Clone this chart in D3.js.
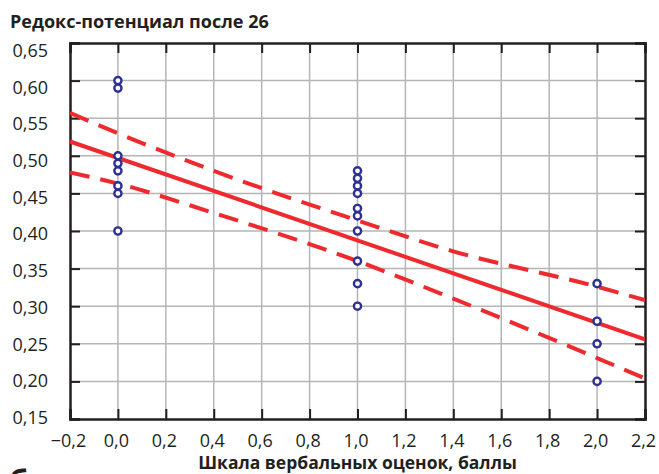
<!DOCTYPE html>
<html><head><meta charset="utf-8">
<script src="https://cdn.jsdelivr.net/npm/d3@7"></script>
<style>
html,body{margin:0;padding:0;background:#fff;}
svg{display:block;font-family:"Open Sans",sans-serif;}
</style></head>
<body>
<svg id="chart" width="659" height="474"></svg>
<script>
// ---- data ----
const xTicks = [-0.2,0,0.2,0.4,0.6,0.8,1.0,1.2,1.4,1.6,1.8,2.0,2.2];
const yTicks = [0.15,0.20,0.25,0.30,0.35,0.40,0.45,0.50,0.55,0.60,0.65];
const pointsX = [0,0,0,0,0,0,0,0, 1,1,1,1,1,1,1,1,1,1, 2,2,2,2];
const pointsY = [0.60,0.59,0.50,0.49,0.48,0.46,0.45,0.40,
                 0.48,0.47,0.46,0.45,0.43,0.42,0.40,0.36,0.33,0.30,
                 0.33,0.28,0.25,0.20];
const fitX = [-0.2, 2.2];
const fitY = [0.519, 0.256];
const bandX = [-0.2, 0, 0.4, 1.0, 1.4, 2.0, 2.2];
const upperY = [0.557, 0.530, 0.480, 0.414, 0.373, 0.326, 0.308];
const lowerY = [0.478, 0.463, 0.424, 0.360, 0.310, 0.231, 0.204];
const title = "Редокс-потенциал после 26";
const xTitle = "Шкала вербальных оценок, баллы";

// ---- layout ----
const L = 70, R = 645, T = 43, B = 419;
const svg = d3.select("#chart");
const x = d3.scaleLinear().domain([-0.2, 2.2]).range([L, R]);
const y = d3.scaleLinear().domain([0.15, 0.65]).range([B, T]);
// y tick labels are typeset on a slightly tighter pitch than the grid
const yLab = d3.scaleLinear().domain([0.15, 0.65]).range([417, 50]);
const fmtX = d => d3.format(".1f")(d).replace("-", "–").replace(".", ",");
const fmtY = d => d3.format(".2f")(d).replace(".", ",");

svg.append("defs").append("clipPath").attr("id","clip")
  .append("rect").attr("x",L).attr("y",T).attr("width",R-L).attr("height",B-T);

// grid
const grid = svg.append("g").attr("stroke","#b5b5b5").attr("stroke-width",1.5);
grid.selectAll(".gx").data(xTicks.slice(1,-1)).join("line")
  .attr("x1",d=>x(d)).attr("x2",d=>x(d)).attr("y1",T).attr("y2",B);
grid.selectAll(".gy").data(yTicks.slice(1,-1)).join("line")
  .attr("y1",d=>y(d)).attr("y2",d=>y(d)).attr("x1",L).attr("x2",R);

// axes with inward ticks
const axCol = "#231f20";
const tl = 10;
const gB = svg.append("g").attr("transform",`translate(0,${B})`)
  .call(d3.axisBottom(x).tickValues(xTicks).tickSize(-tl).tickFormat(fmtX).tickPadding(15));
const gT = svg.append("g").attr("transform",`translate(0,${T})`)
  .call(d3.axisTop(x).tickValues(xTicks).tickSize(-tl).tickFormat(""));
const gL = svg.append("g").attr("transform",`translate(${L},0)`)
  .call(d3.axisLeft(y).tickValues(yTicks).tickSize(-tl).tickFormat(fmtY).tickPadding(22));
const gR = svg.append("g").attr("transform",`translate(${R},0)`)
  .call(d3.axisRight(y).tickValues(yTicks).tickSize(-tl).tickFormat(""));
[gB,gT,gL,gR].forEach(g=>{
  g.select(".domain").attr("stroke",axCol).attr("stroke-width",2.5);
  g.selectAll(".tick line").attr("stroke",axCol).attr("stroke-width",2);
  g.selectAll("text").attr("fill","#231f20").style("font-family","'Open Sans',sans-serif").style("font-size","18px");
});
gB.selectAll(".tick text").attr("dx",-2);
gL.selectAll(".tick text").attr("y",d=>yLab(d)-y(d)).attr("dy","0.36em");

// lines
const line = d3.line().x(d=>x(d[0])).y(d=>y(d[1]));
const bandLine = d3.line().x(d=>x(d[0])).y(d=>y(d[1])).curve(d3.curveMonotoneX);
const lines = svg.append("g").attr("clip-path","url(#clip)").attr("fill","none").attr("stroke","#ee2a2e").attr("stroke-width",4);
lines.append("path").attr("d", line(fitX.map((v,i)=>[v,fitY[i]])));
lines.append("path").attr("stroke-dasharray","20,11").attr("d", bandLine(bandX.map((v,i)=>[v,upperY[i]])));
lines.append("path").attr("stroke-dasharray","20,11").attr("d", bandLine(bandX.map((v,i)=>[v,lowerY[i]])));

// points
svg.append("g").selectAll("circle").data(pointsX.map((v,i)=>[v,pointsY[i]])).join("circle")
  .attr("cx",d=>x(d[0])).attr("cy",d=>y(d[1])).attr("r",3.6)
  .attr("fill","#fff").attr("stroke","#2e3192").attr("stroke-width",2.4);

// titles
svg.append("text").attr("x",10).attr("y",28).attr("font-weight",700).attr("font-size",18).attr("fill","#231f20").text(title);
svg.append("text").attr("x",(L+R)/2).attr("y",469).attr("text-anchor","middle").attr("font-weight",700).attr("font-size",17.5).attr("fill","#231f20").text(xTitle);
svg.append("text").attr("x",9).attr("y",492).attr("font-weight",700).attr("font-size",30).attr("fill","#231f20").text("б");
</script>
</body></html>
